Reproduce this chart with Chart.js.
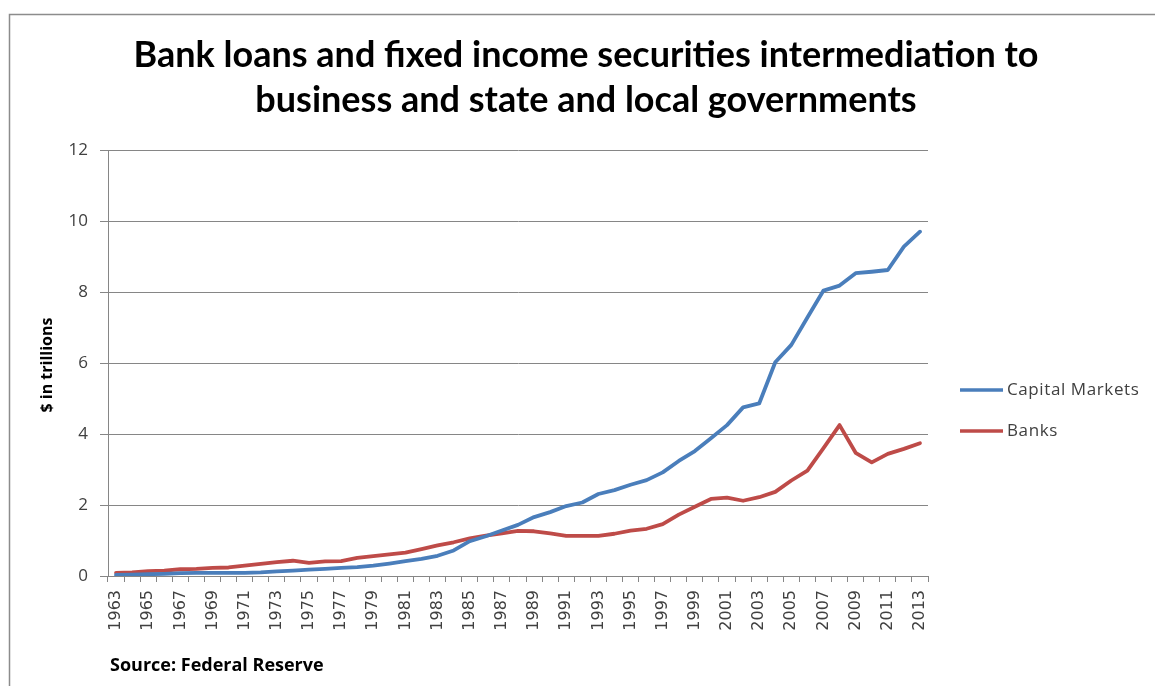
<!DOCTYPE html>
<html>
<head>
<meta charset="utf-8">
<script src="https://cdn.jsdelivr.net/npm/chart.js@4.4.0/dist/chart.umd.min.js"></script>
<style>
  html, body { margin: 0; padding: 0; background: #fff; }
  canvas { display: block; }
</style>
</head>
<body>
<canvas id="chart" width="1155" height="686"></canvas>
<script>
// data ($ in trillions)
const years = ['1963','1964','1965','1966','1967','1968','1969','1970','1971','1972',
  '1973','1974','1975','1976','1977','1978','1979','1980','1981','1982',
  '1983','1984','1985','1986','1987','1988','1989','1990','1991','1992',
  '1993','1994','1995','1996','1997','1998','1999','2000','2001','2002',
  '2003','2004','2005','2006','2007','2008','2009','2010','2011','2012','2013'];

const capitalMarkets = [0.03,0.04,0.05,0.06,0.08,0.09,0.09,0.09,0.09,0.10,
  0.13,0.15,0.18,0.20,0.23,0.25,0.29,0.35,0.42,0.48,
  0.57,0.72,0.98,1.12,1.28,1.44,1.66,1.80,1.97,2.07,
  2.31,2.42,2.57,2.70,2.92,3.24,3.52,3.88,4.25,4.75,
  4.86,6.02,6.51,7.28,8.04,8.18,8.53,8.57,8.62,9.28,9.70];

const banks = [0.09,0.10,0.14,0.15,0.19,0.20,0.23,0.24,0.29,0.34,
  0.39,0.43,0.37,0.41,0.42,0.51,0.56,0.61,0.66,0.76,
  0.86,0.95,1.06,1.14,1.20,1.27,1.26,1.20,1.13,1.13,
  1.13,1.19,1.28,1.33,1.46,1.73,1.95,2.17,2.21,2.12,
  2.22,2.37,2.69,2.97,3.60,4.25,3.47,3.20,3.44,3.58,3.74];

const titleLines = ['Bank loans and fixed income securities intermediation to',
                    'business and state and local governments'];
const yTitle = '$ in trillions';
const sourceNote = 'Source: Federal Reserve';

const gridColor = '#868686';
const textColor = '#404040';

// frame, title, axis title, legend and source note
const decorations = {
  id: 'decorations',
  afterDraw(chart) {
    const ctx = chart.ctx;
    ctx.save();

    ctx.strokeStyle = '#8c8c8c';
    ctx.lineWidth = 1.5;
    ctx.beginPath();
    ctx.moveTo(9.5, 700);
    ctx.lineTo(9.5, 14.5);
    ctx.lineTo(1160, 14.5);
    ctx.stroke();

    // title, sized to the reference width
    ctx.fillStyle = '#000';
    ctx.textAlign = 'center';
    ctx.textBaseline = 'middle';
    ctx.font = 'bold 30px Lato';
    const w = ctx.measureText(titleLines[0]).width;
    const size = 30 * 904 / w;
    ctx.font = 'bold ' + size.toFixed(1) + 'px Lato';
    ctx.fillText(titleLines[0], 586, 55);
    ctx.fillText(titleLines[1], 586, 100);

    // y axis title
    ctx.save();
    ctx.translate(47, 365);
    ctx.rotate(-Math.PI / 2);
    ctx.font = 'bold 16px "Open Sans"';
    ctx.fillText(yTitle, 0, 0);
    ctx.restore();

    // legend
    ctx.textAlign = 'left';
    ctx.font = '17px "Open Sans"';
    ctx.letterSpacing = '0.6px';
    chart.data.datasets.forEach((ds, i) => {
      const y = 390 + i * 41;
      ctx.strokeStyle = ds.borderColor;
      ctx.lineWidth = 3.5;
      ctx.beginPath();
      ctx.moveTo(960, y);
      ctx.lineTo(1003, y);
      ctx.stroke();
      ctx.fillStyle = textColor;
      ctx.fillText(ds.label, 1007, y);
    });
    ctx.letterSpacing = '0px';

    ctx.fillStyle = '#000';
    ctx.font = 'bold 18px "Open Sans"';
    ctx.fillText(sourceNote, 110, 666);

    ctx.restore();
  }
};

new Chart(document.getElementById('chart'), {
  type: 'line',
  data: {
    labels: years,
    datasets: [
      { label: 'Capital Markets', data: capitalMarkets, borderColor: '#4a7ebb' },
      { label: 'Banks', data: banks, borderColor: '#be4b48' }
    ]
  },
  options: {
    responsive: false,
    animation: false,
    layout: { padding: { top: 150, right: 227, left: 0, bottom: 0 } },
    elements: {
      line: { borderWidth: 3.8, tension: 0, borderCapStyle: 'round', borderJoinStyle: 'round' },
      point: { radius: 0 }
    },
    plugins: {
      legend: { display: false },
      title: { display: false },
      tooltip: { enabled: false }
    },
    scales: {
      x: {
        offset: true,
        afterFit: s => { s.height = 110; },
        grid: { offset: true, drawOnChartArea: false, tickLength: 6, color: gridColor },
        border: { color: gridColor },
        ticks: {
          autoSkip: false,
          minRotation: 90,
          maxRotation: 90,
          padding: 8,
          color: textColor,
          font: { family: 'DejaVu Sans', size: 16 },
          callback: function (v, i) { return i % 2 === 0 ? this.getLabelForValue(v) : ''; }
        }
      },
      y: {
        min: 0,
        max: 12,
        afterFit: s => { s.width = 108; },
        grid: { color: gridColor, tickLength: 8 },
        border: { color: gridColor },
        ticks: {
          stepSize: 2,
          padding: 12,
          color: textColor,
          font: { family: 'Open Sans', size: 17 }
        }
      }
    }
  },
  plugins: [decorations]
});
</script>
</body>
</html>
